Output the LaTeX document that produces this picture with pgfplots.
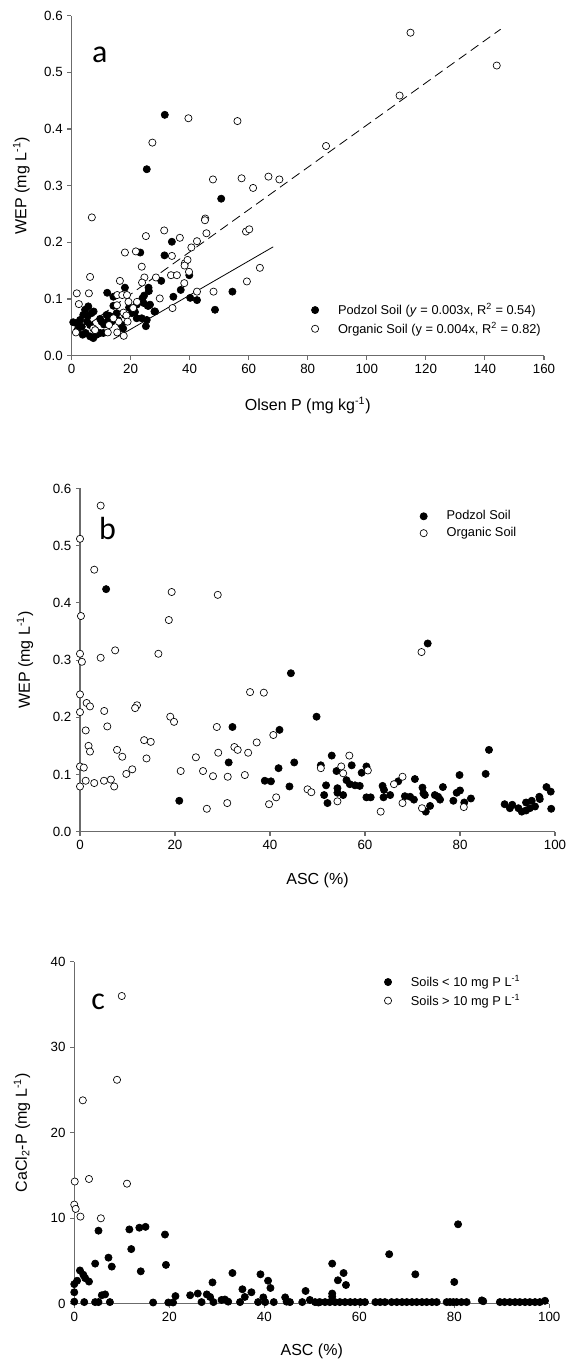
\documentclass[border=0pt]{standalone}
\usepackage{fontspec}
\setmainfont{Liberation Sans}
\newfontfamily\panelfont{Carlito}
\usepackage{pgfplots}
\pgfplotsset{compat=1.18}

\definecolor{axisgray}{gray}{0.42}

\tikzset{panel letter/.style={font=\panelfont\fontsize{24}{24}\selectfont}}

\pgfplotsset{
  soil/.style={
    scale only axis,
    axis lines=left,
    axis line style={-, draw=axisgray, line width=0.8pt},
    tick style={draw=axisgray, line width=0.8pt},
    tick align=outside,
    major tick length=3pt,
    minor tick num=0,
    enlargelimits=false,
    clip=false,
    /pgf/number format/assume math mode=true,
    tick label style={font=\fontsize{10}{12}\selectfont},
    label style={font=\fontsize{12}{14}\selectfont},
    legend cell align=left,
    legend style={draw=none, fill=none, inner sep=0pt,
      font=\fontsize{9.6}{11}\selectfont, row sep=2.2pt,
      nodes={inner sep=1pt}},
    legend image code/.code={%
      \path (0pt,0pt) (19pt,0pt);
      \draw[mark repeat=2, mark phase=2, ##1] plot coordinates {(0pt,0pt) (3pt,0pt) (19pt,0pt)};},
  },
  podzol/.style={only marks, mark=*, mark size=2.7pt,
    mark options={draw=black, fill=black, line width=0.5pt}},
  organic/.style={only marks, mark=*, mark size=2.7pt,
    mark options={draw=black, fill=white, line width=0.5pt}},
}

\begin{document}
\begin{tikzpicture}
\path[use as bounding box] (0,0) rectangle (426pt,1023.75pt);

% ---------------- (a) WEP vs Olsen P ----------------
\begin{axis}[soil,
  at={(53.6pt,757pt)}, anchor=south west,
  width=354.4pt, height=255pt,
  xmin=0, xmax=160, ymin=0, ymax=0.6,
  xtick={0,20,...,160}, ytick={0,0.1,...,0.6},
  yticklabel style={/pgf/number format/.cd, fixed, fixed zerofill, precision=1},
  xlabel={Olsen P (mg kg\textsuperscript{-1})},
  ylabel={WEP (mg L\textsuperscript{-1})},
  xlabel style={at={(axis description cs:0.5,-0.147)}, anchor=center},
  ylabel style={at={(axis description cs:-0.106,0.5)}, anchor=center},
  legend style={at={(0.506,0.158)}, anchor=north west},
]
\addplot[podzol] table {
x y
31.6 0.425
25.5 0.329
50.7 0.277
34.0 0.201
23.3 0.182
31.5 0.177
30.4 0.132
39.9 0.142
18.1 0.120
12.1 0.111
37.0 0.116
26.1 0.120
26.2 0.114
34.5 0.104
40.2 0.102
42.5 0.098
54.5 0.113
48.6 0.081
28.1 0.078
26.1 0.088
24.6 0.106
24.0 0.101
0.6 0.059
1.8 0.057
3.5 0.051
3.8 0.037
5.7 0.087
4.6 0.081
6.8 0.075
4.0 0.072
2.9 0.063
5.3 0.060
6.3 0.054
6.3 0.034
7.4 0.031
8.5 0.037
9.7 0.040
10.8 0.040
10.2 0.060
9.7 0.065
11.9 0.072
12.5 0.063
13.6 0.060
14.2 0.088
15.3 0.075
15.8 0.063
18.1 0.072
20.4 0.075
21.5 0.077
22.1 0.066
23.8 0.066
25.5 0.063
25.2 0.052
26.6 0.090
25.8 0.088
28.3 0.078
14.2 0.104
22.1 0.090
24.4 0.093
5.5 0.070
7.5 0.078
8.0 0.045
16.8 0.055
17.5 0.048
19.5 0.085
13.0 0.070
11.0 0.055
2.0 0.045
4.8 0.040
};
\addlegendentry{Podzol Soil (\textit{y} = 0.003x, R\textsuperscript{2} = 0.54)}
\addplot[organic] table {
x y
114.8 0.570
144.0 0.512
111.1 0.459
86.2 0.370
39.6 0.419
56.2 0.414
27.4 0.376
6.9 0.244
47.9 0.311
57.6 0.313
66.7 0.316
70.4 0.311
61.5 0.296
45.3 0.242
45.2 0.239
45.7 0.216
31.4 0.221
25.2 0.211
36.7 0.208
42.5 0.202
40.6 0.191
59.1 0.219
60.2 0.223
18.1 0.182
21.8 0.184
34.0 0.176
23.8 0.157
38.4 0.163
39.3 0.169
6.3 0.139
16.4 0.132
28.6 0.138
24.7 0.138
23.9 0.129
33.7 0.142
35.7 0.142
39.8 0.148
38.3 0.159
38.2 0.128
63.8 0.155
59.4 0.131
48.1 0.113
42.5 0.113
29.9 0.101
34.2 0.084
1.8 0.110
5.9 0.110
2.5 0.091
15.5 0.107
17.2 0.107
18.8 0.107
15.4 0.089
19.3 0.095
22.2 0.095
17.6 0.076
18.6 0.071
19.0 0.060
20.9 0.084
1.5 0.041
7.4 0.048
12.3 0.041
15.5 0.041
17.7 0.035
12.7 0.054
8.0 0.045
16.0 0.060
14.2 0.066
};
\addlegendentry{Organic Soil (y = 0.004x, R\textsuperscript{2} = 0.82)}
\addplot[black, line width=0.6pt, forget plot] coordinates {(14.2,0.029) (68.3,0.192)};
\addplot[black, line width=0.6pt, dash pattern=on 7pt off 4pt, forget plot]
  coordinates {(6,0.056) (145.3,0.576)};
\node[panel letter] at (axis cs:9.6,0.53) {a};
\end{axis}

% ---------------- (b) WEP vs ASC ----------------
\begin{axis}[soil,
  at={(60pt,400pt)}, anchor=south west,
  width=356.25pt, height=257.4pt,
  xmin=0, xmax=100, ymin=0, ymax=0.6,
  xtick={0,20,...,100}, ytick={0,0.1,...,0.6},
  yticklabel style={/pgf/number format/.cd, fixed, fixed zerofill, precision=1},
  xlabel={ASC (\%)},
  ylabel={WEP (mg L\textsuperscript{-1})},
  xlabel style={at={(axis description cs:0.5,-0.142)}, anchor=center},
  ylabel style={at={(axis description cs:-0.116,0.5)}, anchor=center},
  legend style={at={(0.714,0.94)}, anchor=north west},
]
\addplot[podzol] table {
x y
5.5 0.424
44.4 0.277
49.8 0.201
32.1 0.183
42.0 0.178
31.3 0.121
41.8 0.111
45.1 0.121
38.9 0.089
40.2 0.088
44.1 0.079
20.9 0.054
73.2 0.329
86.1 0.143
85.4 0.101
79.9 0.099
53.0 0.133
57.2 0.116
60.3 0.114
59.3 0.103
54.0 0.106
50.7 0.116
56.1 0.090
56.8 0.083
57.9 0.081
58.9 0.080
51.8 0.081
54.2 0.076
54.2 0.068
55.4 0.064
51.4 0.064
52.1 0.050
60.3 0.060
61.2 0.060
63.7 0.080
64.0 0.073
63.9 0.060
65.3 0.064
67.0 0.088
70.5 0.092
68.4 0.062
69.5 0.061
70.3 0.056
72.1 0.077
72.3 0.067
72.6 0.064
73.7 0.045
72.8 0.035
74.7 0.064
75.4 0.061
75.8 0.056
76.4 0.078
78.6 0.054
79.3 0.068
80.0 0.072
80.9 0.051
82.3 0.058
89.4 0.048
90.5 0.041
91.0 0.047
92.3 0.041
93.0 0.035
93.9 0.037
94.7 0.041
95.1 0.054
93.9 0.051
95.8 0.044
96.7 0.061
96.8 0.057
98.2 0.078
99.1 0.070
99.2 0.040
};
\addlegendentry{Podzol Soil}
\addplot[organic] table {
x y
4.35 0.570
0.0 0.512
3.0 0.458
19.3 0.419
29.0 0.414
0.2 0.377
18.7 0.370
7.4 0.317
0.0 0.311
16.5 0.311
0.4 0.297
4.35 0.304
35.8 0.244
38.7 0.243
0.0 0.240
1.4 0.225
2.1 0.219
12.0 0.221
11.6 0.216
5.1 0.211
0.0 0.209
19.0 0.201
19.8 0.192
5.75 0.184
28.8 0.183
1.2 0.177
40.7 0.169
37.2 0.156
13.5 0.160
14.9 0.157
1.8 0.150
2.1 0.140
7.8 0.143
8.9 0.131
32.5 0.148
33.2 0.143
29.1 0.138
35.4 0.138
24.4 0.130
14.0 0.128
0.0 0.114
0.8 0.112
21.2 0.106
25.9 0.106
11.0 0.109
9.75 0.101
28.0 0.097
31.1 0.096
34.7 0.099
1.2 0.089
3.0 0.085
5.05 0.089
6.5 0.091
7.2 0.079
0.0 0.079
31.0 0.050
26.7 0.040
39.8 0.048
41.3 0.060
47.9 0.074
48.7 0.069
50.7 0.111
56.7 0.133
55.0 0.114
55.4 0.102
54.2 0.053
60.6 0.107
63.3 0.035
66.1 0.083
67.9 0.096
67.9 0.050
72.0 0.041
80.8 0.043
71.9 0.314
};
\addlegendentry{Organic Soil}
\node[panel letter] at (axis cs:5.8,0.53) {b};
\end{axis}

% ---------------- (c) CaCl2-P vs ASC ----------------
\begin{axis}[soil,
  at={(55.7pt,45.9pt)}, anchor=south west,
  width=356.25pt, height=256.5pt,
  xmin=0, xmax=100, ymin=0, ymax=40,
  xtick={0,20,...,100}, ytick={0,10,...,40},
  xlabel={ASC (\%)},
  ylabel={CaCl\textsubscript{2}-P (mg L\textsuperscript{-1})},
  xlabel style={at={(axis description cs:0.5,-0.14)}, anchor=center},
  ylabel style={at={(axis description cs:-0.11,0.5)}, anchor=center},
  legend style={at={(0.651,0.9645)}, anchor=north west},
]
\addplot[podzol] table {
x y
5.1 8.55
11.6 8.7
13.7 8.9
15.0 9.0
19.1 8.1
12.0 6.4
7.2 5.4
4.4 4.7
7.9 4.35
19.3 4.55
1.2 3.9
14.0 3.8
0.0 0.25
0.0 1.35
0.0 2.3
0.6 2.7
1.9 3.4
2.3 3.0
3.1 2.6
2.1 0.2
4.4 0.2
5.1 0.2
5.8 1.0
6.5 1.1
7.5 0.2
16.6 0.15
19.8 0.15
20.8 0.15
21.3 0.9
24.4 1.0
26.0 1.2
26.8 0.2
27.9 1.1
28.6 0.8
29.1 2.5
29.3 0.2
31.0 0.45
31.7 0.5
32.4 0.25
33.3 3.6
34.9 0.2
35.4 1.7
35.9 0.8
37.3 1.35
38.7 0.2
39.2 3.45
39.8 0.75
40.2 0.2
40.8 2.7
41.3 1.85
42.0 0.2
44.4 0.75
44.7 0.25
45.4 0.2
48.0 0.2
48.7 1.5
49.6 0.45
50.7 0.2
51.4 0.15
54.3 4.7
55.5 2.75
56.7 3.6
57.2 2.2
54.3 1.2
54.3 0.85
66.3 5.8
71.8 3.45
80.0 2.55
80.8 9.3
51.7 0.2
52.8 0.2
53.8 0.2
54.9 0.2
55.9 0.2
57.0 0.2
58.1 0.2
59.1 0.2
60.2 0.2
61.2 0.2
63.4 0.2
64.4 0.2
65.4 0.2
66.8 0.2
67.9 0.2
69.0 0.2
70.0 0.2
71.1 0.2
72.1 0.2
73.2 0.2
74.2 0.2
75.3 0.2
76.3 0.2
78.4 0.2
79.1 0.2
79.8 0.2
80.5 0.2
81.5 0.2
82.6 0.2
85.8 0.4
86.1 0.3
89.6 0.2
90.6 0.2
91.7 0.2
92.8 0.2
93.8 0.2
94.9 0.2
95.9 0.2
97.0 0.2
98.0 0.2
99.1 0.35
};
\addlegendentry{Soils < 10 mg P L\textsuperscript{-1}}
\addplot[organic] table {
x y
10.0 36.0
9.0 26.2
1.8 23.8
0.1 14.3
3.1 14.6
11.1 14.05
0.0 11.6
0.3 11.1
1.3 10.2
5.6 10.0
};
\addlegendentry{Soils > 10 mg P L\textsuperscript{-1}}
\node[panel letter] at (axis cs:5.0,35.3) {c};
\end{axis}
\end{tikzpicture}
\end{document}
